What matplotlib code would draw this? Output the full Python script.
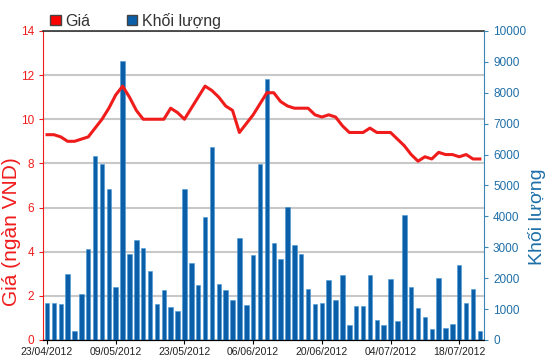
import matplotlib.pyplot as plt
from matplotlib.patches import Patch

plt.rcParams['font.family'] = ['Liberation Sans', 'DejaVu Sans']

# trading days 23/04/2012 - 23/07/2012 (labels every 10 sessions)
tick_labels = ['23/04/2012', '09/05/2012', '23/05/2012', '06/06/2012',
               '20/06/2012', '04/07/2012', '18/07/2012']

price = [9.3, 9.3, 9.2, 9.0, 9.0, 9.1, 9.2, 9.6, 10.0, 10.5,
         11.1, 11.5, 11.0, 10.4, 10.0, 10.0, 10.0, 10.0, 10.5, 10.3,
         10.0, 10.5, 11.0, 11.5, 11.3, 11.0, 10.6, 10.4, 9.4, 9.8,
         10.2, 10.7, 11.2, 11.2, 10.8, 10.6, 10.5, 10.5, 10.5, 10.2,
         10.1, 10.2, 10.1, 9.7, 9.4, 9.4, 9.4, 9.6, 9.4, 9.4,
         9.4, 9.1, 8.8, 8.4, 8.1, 8.3, 8.2, 8.5, 8.4, 8.4,
         8.3, 8.4, 8.2, 8.2]

volume = [1210, 1210, 1170, 2130, 290, 1490, 2940, 5950, 5710, 4900,
          1730, 9030, 2770, 3250, 2970, 2220, 1170, 1620, 1060, 930,
          4870, 2500, 1780, 3980, 6240, 1820, 1620, 1290, 3300, 1140,
          2740, 5680, 8440, 3140, 2620, 4290, 3060, 2770, 1660, 1170,
          1210, 1930, 1280, 2090, 480, 1090, 1090, 2090, 650, 480,
          1970, 610, 4060, 1700, 1050, 730, 360, 2000, 400, 520,
          2420, 1200, 1660, 280]

red = '#f01c1c'
blue = '#0b5ea8'
axis_blue = '#3a86b8'

x = list(range(len(price)))

fig = plt.figure(figsize=(5.5, 3.64), dpi=100)
ax = fig.add_axes([0.078, 0.066, 0.802, 0.849])
ax.set_xlim(-0.6, 63.6)
ax.set_ylim(0, 14)
ax.set_yticks(range(0, 15, 2))
ax.grid(axis='y', color='#c8c8c8', linewidth=1.5)
ax.set_axisbelow(True)
ax.set_xticks(range(0, 61, 10))
ax.set_xticklabels(tick_labels, fontsize=7.5, color='#222222')
ax.tick_params(axis='y', colors=red, labelsize=8.5, length=3)
ax.tick_params(axis='x', length=3, pad=2)
ax.set_ylabel('Giá (ngàn VND)', color=red, fontsize=15)
ax.yaxis.set_label_coords(-0.05, 0.35)
ax.spines['left'].set_color(red)
ax.spines['top'].set_color('#333333')
ax.spines['top'].set_linewidth(1.2)
ax.spines['bottom'].set_color('#222222')
ax.spines['right'].set_visible(False)

ax2 = ax.twinx()
ax2.bar(x, volume, width=0.65, color=blue, edgecolor='#4a9ad6', linewidth=0.4)
ax2.set_ylim(0, 10000)
ax2.set_yticks(range(0, 10001, 1000))
ax2.tick_params(axis='y', colors=axis_blue, labelcolor='#1f6fa8', labelsize=8.5, length=3)
ax2.set_ylabel('Khối lượng', color='#1f6fa8', fontsize=14)
ax2.yaxis.set_label_coords(1.10, 0.40)
ax2.spines['right'].set_color(axis_blue)
ax2.spines['left'].set_visible(False)
ax2.spines['top'].set_visible(False)

ax3 = ax.twinx()
ax3.set_ylim(0, 14)
ax3.plot(x, price, color=red, linewidth=2.2)
ax3.axis('off')

handles = [Patch(facecolor='#ff0000', edgecolor='#444444', label='Giá'),
           Patch(facecolor=blue, edgecolor='#444444', label='Khối lượng')]
fig.legend(handles=handles, loc='upper left', bbox_to_anchor=(0.065, 1.005), ncol=2,
           frameon=False, fontsize=11.5, handlelength=0.65, handleheight=0.65,
           columnspacing=2.3, handletextpad=0.3, labelcolor='#333333')

fig.savefig('out.png')
